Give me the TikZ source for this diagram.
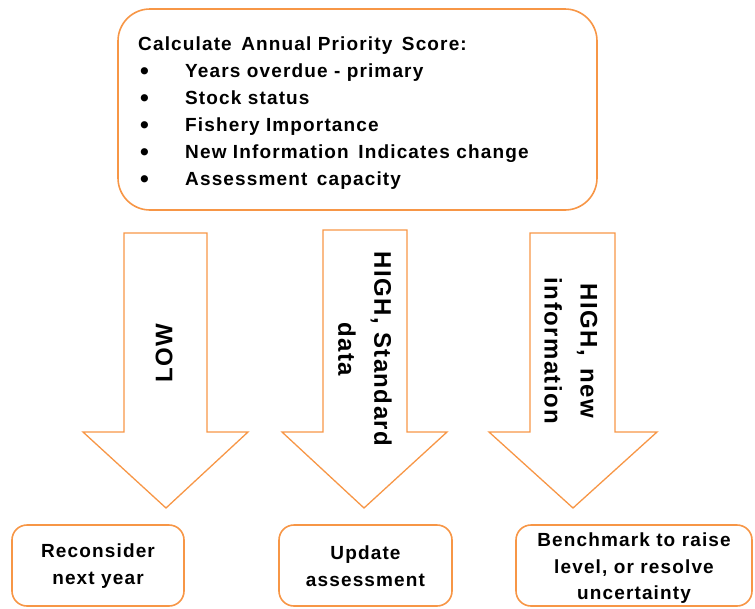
\documentclass[tikz,border=0pt]{standalone}
\usepackage{fontspec}
\setmainfont{Liberation Sans}[LetterSpace=6]
\definecolor{org}{HTML}{F79646}
\begin{document}
\begin{tikzpicture}[x=1pt,y=-1pt,
  box/.style={draw=org, line width=1.6pt, inner sep=0pt},
  arr/.style={draw=org, line width=1.3pt, line join=miter},
  txt/.style={font=\fontsize{19}{26}\selectfont\bfseries, anchor=base west, inner sep=0pt},
  bul/.style={font=\fontsize{25}{26}\selectfont\bfseries, anchor=base west, inner sep=0pt},
  btxt/.style={font=\fontsize{19}{26.5}\selectfont\bfseries, align=center, inner sep=0pt},
  atxt/.style={font=\fontsize{24}{36}\selectfont\bfseries, align=center, inner sep=0pt}]
\useasboundingbox (0,0) rectangle (755,608);
% top box
\node[box, rounded corners=32pt, minimum width=479pt, minimum height=201pt] (top) at (357.5,109.5) {};
\node[txt] (head) at (138,50) {Calculate\, Annual Priority\, Score:};
\node[bul] (b1) at (140,79) {•};
\node[bul] (b2) at (140,106) {•};
\node[bul] (b3) at (140,133) {•};
\node[bul] (b4) at (140,160) {•};
\node[bul] (b5) at (140,187) {•};
\node[txt] (i1) at (185,77) {Years overdue - primary};
\node[txt] (i2) at (185,104) {Stock status};
\node[txt] (i3) at (185,131) {Fishery Importance};
\node[txt] (i4) at (185,158) {New Information\, Indicates change};
\node[txt] (i5) at (185,185) {Assessment\, capacity};
% arrows
\draw[arr] (124,233) -- (207,233) -- (207,432) -- (248,432) -- (166,508) -- (83,432) -- (124,432) -- cycle;
\draw[arr] (323,230) -- (407,230) -- (407,432) -- (447,432) -- (364,508) -- (282,432) -- (323,432) -- cycle;
\draw[arr] (530,233) -- (615,233) -- (615,432) -- (657,432) -- (573,508) -- (489,432) -- (530,432) -- cycle;
\node[atxt, rotate=90] (low) at (164,353) {LOW};
\node[atxt, rotate=-90] (std) at (365,349) {HIGH, Standard\\data};
\node[atxt, rotate=-90] (new) at (571,351) {HIGH,\, new\\information};
% bottom boxes
\node[box, rounded corners=15pt, minimum width=172pt, minimum height=81pt] (r1) at (98,565.5) {};
\node[btxt] (t1) at (98,566) {Reconsider\\next year};
\node[box, rounded corners=15pt, minimum width=173pt, minimum height=81pt] (r2) at (365.5,565.5) {};
\node[btxt] (t2) at (365.5,566) {Update\\assessment};
\node[box, rounded corners=15pt, minimum width=236pt, minimum height=81pt] (r3) at (634,565.5) {};
\node[btxt] (t3) at (634,568.5) {Benchmark to raise\\level, or resolve\\uncertainty};
\end{tikzpicture}
\end{document}
